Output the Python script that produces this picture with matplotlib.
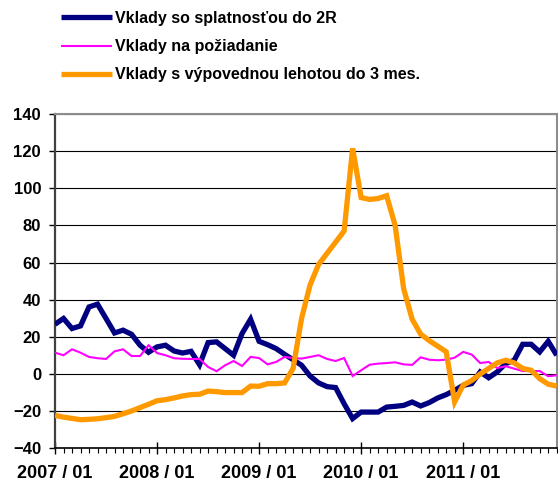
import matplotlib
matplotlib.use("Agg")
import matplotlib.pyplot as plt
from matplotlib.ticker import MultipleLocator, FixedLocator
import numpy as np

plt.rcParams['font.family'] = ['Liberation Sans', 'DejaVu Sans']

# monthly data, 2007/01 .. 2011/12
start_year = 2007
n_months = 60

splatnost = [26.8, 29.9, 24.5, 25.9, 36.1, 37.6, 29.9, 22.1, 23.6, 21.4,
             15.5, 11.7, 14.6, 15.5, 12.4, 11.3, 12.2, 5.0, 16.9, 17.3,
             13.7, 10.1, 21.8, 29.5, 17.6, 15.8, 13.7, 10.6, 7.7, 4.7,
             -1.1, -4.8, -6.8, -7.3, -16.0, -24.0, -20.5, -20.5, -20.5, -17.8,
             -17.4, -16.9, -15.1, -17.2, -15.4, -12.9, -11.1, -8.8, -6.1, -5.2,
             1.1, -2.0, 1.1, 5.6, 7.4, 16.0, 16.0, 11.9, 17.6, 10.1]

poziadanie = [11.5, 10.1, 13.3, 11.5, 9.2, 8.5, 8.1, 12.2, 13.3, 9.7,
              9.7, 15.5, 11.3, 10.1, 8.5, 8.2, 8.1, 8.1, 3.8, 1.5,
              4.7, 7.0, 4.3, 9.2, 8.6, 5.2, 6.5, 9.2, 8.6, 8.3,
              9.2, 10.1, 8.1, 7.0, 8.6, -1.1, 2.0, 5.0, 5.6, 5.9,
              6.3, 5.2, 4.9, 9.0, 7.7, 7.4, 7.7, 8.8, 11.9, 10.5,
              5.9, 6.5, 3.2, 4.2, 2.9, 1.6, 1.6, 1.6, -1.2, -0.7]

vypoved = [-22.3, -23.2, -23.9, -24.6, -24.4, -24.1, -23.5, -22.8, -21.4, -19.9,
           -18.1, -16.3, -14.4, -13.8, -12.9, -11.8, -11.1, -10.9, -9.2, -9.5,
           -10.0, -10.0, -10.0, -6.5, -6.6, -5.2, -5.2, -4.8, 3.0, 30.0,
           48.0, 59.0, 65.0, 71.0, 77.0, 121.5, 95.0, 94.0, 94.5, 96.0,
           80.0, 46.0, 29.5, 21.5, 18.0, 15.0, 12.0, -15.0, -6.0, -3.5,
           0.0, 3.0, 6.0, 7.4, 6.0, 3.0, 2.0, -2.5, -5.5, -6.5]

labels = ["Vklady so splatnosťou do 2R", "Vklady na požiadanie",
          "Vklady s výpovednou lehotou do 3 mes."]
colors = ["#000080", "#FF00FF", "#FF9900"]
widths = [3.8, 1.5, 3.8]

year_labels = [f"{start_year + k} / 01" for k in range(5)]

fig = plt.figure(figsize=(5.58, 4.82), dpi=100)
ax = fig.add_axes([55/558, 1 - 448.3/482, (556.7 - 55)/558, (448.3 - 114)/482])

x = np.arange(n_months)
handles = []
for series, lab, c, w in zip([splatnost, poziadanie, vypoved], labels, colors, widths):
    h, = ax.plot(x, series, color=c, lw=w, label=lab, solid_joinstyle='miter',
                 solid_capstyle='butt', zorder=3)
    handles.append(h)

ax.set_xlim(0, n_months - 1)
ax.set_ylim(-40, 140)
ax.yaxis.set_major_locator(MultipleLocator(20))
ax.grid(axis='y', color='black', lw=0.8, zorder=1)
ax.set_axisbelow(True)

ax.xaxis.set_major_locator(FixedLocator([0, 12, 24, 36, 48]))
ax.xaxis.set_minor_locator(MultipleLocator(1))
ax.set_xticklabels(year_labels)
ax.tick_params(axis='x', which='major', direction='inout', length=8.5, width=1.0,
               pad=8, labelsize=13)
ax.tick_params(axis='x', which='minor', direction='out', length=3.5, width=0.8)
ax.tick_params(axis='y', which='major', direction='out', length=4, width=1.0,
               pad=6, labelsize=12)
for lab in ax.get_xticklabels() + ax.get_yticklabels():
    lab.set_fontweight('bold')

ax.spines['left'].set_color('#404040')
ax.spines['left'].set_linewidth(1.6)
ax.spines['bottom'].set_color('black')
ax.spines['bottom'].set_linewidth(1.2)
ax.spines['top'].set_color('#8c8c8c')
ax.spines['top'].set_linewidth(1.5)
ax.spines['right'].set_color('#8c8c8c')
ax.spines['right'].set_linewidth(1.5)

fig.legend(handles=handles, labels=labels, loc='upper left',
           bbox_to_anchor=(61/558, 1 - 11/482), frameon=False,
           prop={'weight': 'bold', 'size': 11.5}, handlelength=3.2,
           handletextpad=0.2, labelspacing=0.82, borderpad=0, borderaxespad=0)

fig.savefig("out.png", dpi=100)
